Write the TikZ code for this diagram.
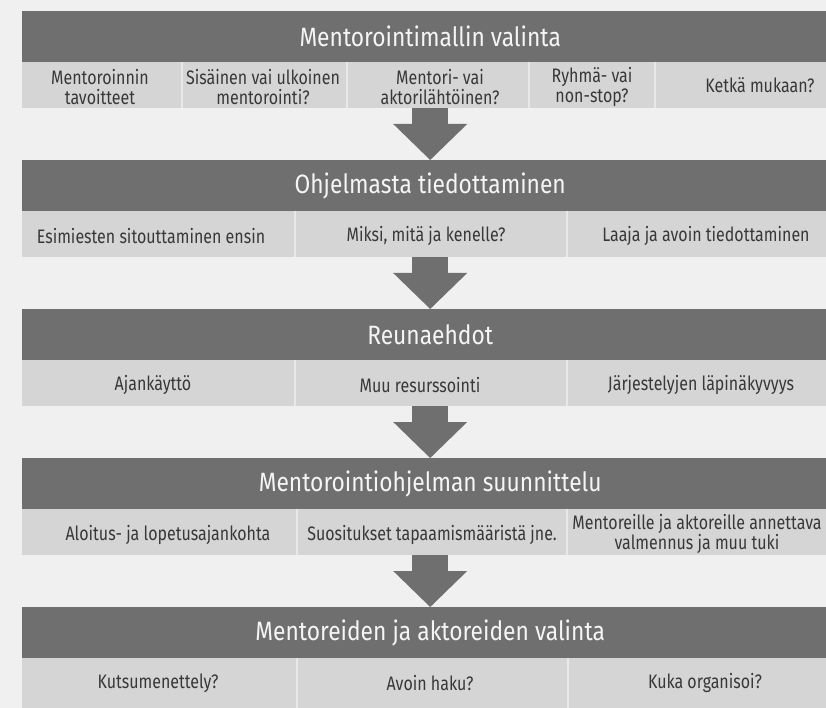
\documentclass[tikz,border=0pt]{standalone}
\usepackage{fontspec}
\setmainfont{Fira Sans}
\newfontfamily\hdrfont{Fira Sans}[FakeStretch=0.86]
\newfontfamily\cellfont{Fira Sans}[FakeStretch=0.82]
\usetikzlibrary{arrows.meta}
\definecolor{bg}{HTML}{F0F0F0}
\definecolor{hdrgray}{HTML}{6F6F6F}
\definecolor{cellgray}{HTML}{D5D5D5}
\definecolor{divline}{HTML}{E8E8E8}
\definecolor{celltext}{HTML}{383838}
\definecolor{hdrtext}{HTML}{F5F5F5}
\begin{document}
\begin{tikzpicture}[x=1pt,y=-1pt,
 hdr/.style={fill=hdrgray, text=hdrtext, font=\hdrfont\fontsize{26.5}{30}\selectfont,
   minimum width=816pt, minimum height=51pt, anchor=north west, inner sep=0pt},
 rowbg/.style={fill=cellgray, minimum width=816pt, minimum height=46pt, anchor=north west, inner sep=0pt},
 celltxt/.style={text=celltext, font=\cellfont\fontsize{19.5}{20}\selectfont, align=center, inner sep=0pt},
 divider/.style={draw=divline, line width=1.6pt},
 bigarrow/.style={draw=hdrgray, line width=36pt, -{Triangle[width=74pt,length=36pt,line width=0pt]}}
]
\useasboundingbox (0,0) rectangle (826,708);
\fill[bg] (0,0) rectangle (826,708);

% Section 1
\node[hdr] (h1) at (22,11) {Mentorointimallin valinta};
\node[rowbg] (r1) at (22,62) {};
\draw[divider] (182,62) -- (182,108);
\draw[divider] (347,62) -- (347,108);
\draw[divider] (529,62) -- (529,108);
\draw[divider] (655,62) -- (655,108);
\node[celltxt] (c11) at (100,87) {Mentoroinnin\\tavoitteet};
\node[celltxt] (c12) at (263,87) {Sisäinen vai ulkoinen\\mentorointi?};
\node[celltxt] (c13) at (440,87) {Mentori- vai\\aktorilähtöinen?};
\node[celltxt] (c14) at (592,87) {Ryhmä- vai\\non-stop?};
\node[celltxt] (c15) at (760,85) {Ketkä mukaan?};

% Section 2
\node[hdr] (h2) at (22,160) {Ohjelmasta tiedottaminen};
\node[rowbg] (r2) at (22,211) {};
\draw[divider] (295,211) -- (295,257);
\draw[divider] (567,211) -- (567,257);
\node[celltxt] (c21) at (151,236) {Esimiesten sitouttaminen ensin};
\node[celltxt] (c22) at (426,236) {Miksi, mitä ja kenelle?};
\node[celltxt] (c23) at (706,236) {Laaja ja avoin tiedottaminen};

% Section 3
\node[hdr] (h3) at (22,309) {Reunaehdot};
\node[rowbg] (r3) at (22,360) {};
\draw[divider] (295,360) -- (295,406);
\draw[divider] (567,360) -- (567,406);
\node[celltxt] (c31) at (153,385) {Ajankäyttö};
\node[celltxt] (c32) at (420,385) {Muu resurssointi};
\node[celltxt] (c33) at (701,385) {Järjestelyjen läpinäkyvyys};

% Section 4
\node[hdr] (h4) at (22,458) {Mentorointiohjelman suunnittelu};
\node[rowbg] (r4) at (22,509) {};
\draw[divider] (297,509) -- (297,555);
\draw[divider] (567,509) -- (567,555);
\node[celltxt] (c41) at (168,535) {Aloitus- ja lopetusajankohta};
\node[celltxt] (c42) at (432,535) {Suositukset tapaamismääristä jne.};
\node[celltxt] (c43) at (697,534) {Mentoreille ja aktoreille annettava\\valmennus ja muu tuki};

% Section 5
\node[hdr] (h5) at (22,607) {Mentoreiden ja aktoreiden valinta};
\node[rowbg, minimum height=50pt] (r5) at (22,658) {};
\draw[divider] (297,658) -- (297,708);
\draw[divider] (568,658) -- (568,708);
\node[celltxt] (c51) at (158,683) {Kutsumenettely?};
\node[celltxt] (c52) at (430,683) {Avoin haku?};
\node[celltxt] (c53) at (705,683) {Kuka organisoi?};

% Arrows
\draw[bigarrow] (r1.south) -- (h2.north);
\draw[bigarrow] (r2.south) -- (h3.north);
\draw[bigarrow] (r3.south) -- (h4.north);
\draw[bigarrow] (r4.south) -- (h5.north);
\end{tikzpicture}
\end{document}
